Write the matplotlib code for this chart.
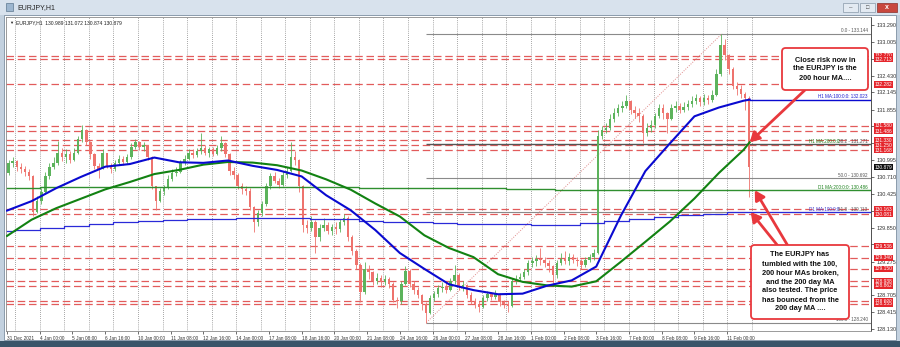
import numpy as np
import matplotlib
matplotlib.use("Agg")
import matplotlib.pyplot as plt
from matplotlib.patches import Rectangle, FancyBboxPatch
from matplotlib.transforms import blended_transform_factory

plt.rcParams["font.family"] = ["Liberation Sans", "DejaVu Sans"]

# ---------------------------------------------------------------------------
# data (aggregated to 4-hour candles)
# ---------------------------------------------------------------------------
BARS_PER_CANDLE = 4
first_open = 130.78
closes = [
    130.95, 130.98, 130.88, 130.84, 130.80, 130.72, 130.12, 130.30, 130.45, 130.72,
    130.88, 130.95, 131.12, 131.05, 131.10, 131.00, 131.12, 131.35, 131.50, 131.30,
    131.10, 130.90, 130.85, 131.12, 130.90, 130.84, 130.95, 131.02, 130.96, 131.05,
    131.22, 131.30, 131.22, 131.25, 131.05, 130.55, 130.30, 130.48, 130.52, 130.68,
    130.78, 130.80, 130.95, 131.02, 131.12, 131.08, 131.15, 131.20, 131.12, 131.18,
    131.10, 131.20, 131.28, 131.10, 130.82, 130.75, 130.55, 130.50, 130.48, 130.20,
    129.95, 130.10, 130.25, 130.55, 130.72, 130.65, 130.58, 130.75, 130.82, 131.05,
    131.00, 130.55, 129.90, 129.85, 129.95, 129.70, 129.85, 129.90, 129.80, 129.86,
    129.82, 129.95, 130.02, 129.70, 129.45, 129.22, 128.75, 129.15, 129.10, 128.95,
    129.00, 128.92, 128.98, 128.90, 128.62, 128.60, 128.90, 129.12, 128.90, 128.80,
    128.70, 128.55, 128.40, 128.65, 128.72, 128.82, 128.85, 128.80, 128.95, 129.05,
    128.85, 128.88, 128.70, 128.60, 128.55, 128.50, 128.65, 128.72, 128.68, 128.72,
    128.58, 128.55, 128.52, 128.95, 128.98, 129.02, 129.10, 129.25, 129.28, 129.32,
    129.30, 129.25, 129.20, 129.05, 129.25, 129.32, 129.28, 129.35, 129.30, 129.28,
    129.22, 129.30, 129.35, 129.42, 131.40, 131.50, 131.55, 131.70, 131.80, 131.88,
    131.92, 132.00, 131.85, 131.80, 131.75, 131.45, 131.55, 131.60, 131.75, 131.88,
    131.80, 131.70, 131.88, 131.92, 131.85, 131.90, 131.95, 132.00, 132.05, 131.98,
    132.05, 132.02, 132.10, 132.45, 132.95, 132.78, 132.55, 132.25, 132.20, 132.12,
    132.05, 130.879,
]
highs = [
    131.00, 131.05, 131.00, 130.95, 130.90, 130.85, 130.74, 130.38, 130.52, 130.80,
    130.95, 131.05, 131.32, 131.20, 131.18, 131.15, 131.20, 131.40, 131.60, 131.52,
    131.32, 131.12, 130.95, 131.18, 131.12, 130.95, 131.00, 131.08, 131.06, 131.10,
    131.28, 131.36, 131.32, 131.30, 131.26, 131.06, 130.56, 130.52, 130.58, 130.75,
    130.85, 130.88, 131.00, 131.08, 131.18, 131.18, 131.20, 131.46, 131.25, 131.22,
    131.22, 131.25, 131.40, 131.30, 131.12, 130.88, 130.78, 130.60, 130.56, 130.52,
    130.22, 130.15, 130.30, 130.60, 130.78, 130.80, 130.70, 130.82, 130.88, 131.30,
    131.15, 131.02, 130.58, 129.98, 130.05, 129.98, 129.92, 130.02, 129.95, 129.92,
    129.95, 130.00, 130.08, 130.04, 129.72, 129.48, 129.25, 129.27, 129.22, 129.12,
    129.08, 129.05, 129.05, 129.02, 128.92, 128.68, 128.95, 129.20, 129.15, 128.95,
    128.85, 128.72, 128.58, 128.70, 128.78, 128.88, 128.92, 128.92, 129.00, 129.22,
    129.08, 128.95, 128.90, 128.75, 128.65, 128.60, 128.70, 128.78, 128.76, 128.80,
    128.74, 128.62, 128.60, 129.00, 129.05, 129.08, 129.15, 129.30, 129.35, 129.38,
    129.50, 129.35, 129.30, 129.22, 129.30, 129.42, 129.45, 129.42, 129.40, 129.35,
    129.32, 129.36, 129.40, 129.48, 131.50, 131.58, 131.62, 131.78, 131.88, 131.95,
    132.00, 132.10, 132.02, 131.92, 131.88, 131.78, 131.62, 131.68, 131.80, 131.95,
    131.95, 131.82, 131.95, 132.00, 131.96, 131.98, 132.02, 132.08, 132.12, 132.08,
    132.12, 132.10, 132.18, 132.55, 133.144, 133.05, 132.80, 132.58, 132.32, 132.28,
    132.15, 132.08,
]
lows = [
    130.74, 130.88, 130.82, 130.78, 130.72, 130.66, 130.05, 130.10, 130.25, 130.42,
    130.68, 130.85, 130.92, 130.98, 130.95, 130.94, 130.98, 131.10, 131.30, 131.25,
    131.02, 130.85, 130.70, 130.85, 130.86, 130.78, 130.82, 130.92, 130.92, 130.93,
    131.02, 131.18, 131.16, 131.15, 131.00, 130.50, 130.15, 130.28, 130.40, 130.50,
    130.65, 130.72, 130.78, 130.92, 131.00, 131.03, 131.05, 131.10, 131.08, 131.05,
    131.06, 131.08, 131.15, 131.05, 130.75, 130.68, 130.50, 130.42, 130.40, 130.15,
    129.78, 129.88, 130.05, 130.22, 130.50, 130.60, 130.52, 130.55, 130.70, 130.80,
    130.92, 130.45, 129.78, 129.76, 129.80, 129.42, 129.62, 129.80, 129.74, 129.72,
    129.75, 129.78, 129.90, 129.62, 129.38, 129.15, 128.59, 128.72, 128.98, 128.88,
    128.90, 128.85, 128.88, 128.82, 128.58, 128.49, 128.55, 128.88, 128.85, 128.72,
    128.65, 128.45, 128.24, 128.38, 128.60, 128.68, 128.75, 128.74, 128.78, 128.90,
    128.80, 128.78, 128.65, 128.55, 128.48, 128.42, 128.48, 128.60, 128.62, 128.64,
    128.52, 128.48, 128.42, 128.50, 128.90, 128.94, 128.98, 129.05, 129.18, 129.20,
    129.22, 129.18, 129.10, 128.90, 129.00, 129.22, 129.24, 129.22, 129.25, 129.20,
    129.15, 129.18, 129.26, 129.30, 129.40, 131.35, 131.45, 131.50, 131.65, 131.75,
    131.82, 131.88, 131.78, 131.72, 131.65, 131.29, 131.40, 131.48, 131.55, 131.72,
    131.70, 131.45, 131.68, 131.82, 131.80, 131.82, 131.85, 131.90, 131.95, 131.92,
    131.94, 131.95, 131.98, 132.08, 132.42, 132.70, 132.45, 132.20, 132.10, 132.05,
    131.85, 130.37,
]

# hourly moving averages, sampled every 24 H1 bars (+ last bar)
ma_idx = list(range(0, 721, 24)) + [726]
h1_ma100 = [130.14, 130.30, 130.52, 130.71, 130.885, 130.93, 131.04, 130.96, 130.95, 130.99,
            130.90, 130.83, 130.72, 130.40, 130.145, 129.81, 129.42, 129.15, 128.89, 128.79,
            128.72, 128.73, 128.865, 128.955, 129.19, 130.05, 130.81, 131.28, 131.74, 131.89,
            132.005, 132.023]
h1_ma200 = [129.71, 129.985, 130.18, 130.34, 130.50, 130.625, 130.76, 130.83, 130.92, 130.965,
            130.955, 130.91, 130.82, 130.67, 130.495, 130.26, 130.04, 129.72, 129.505, 129.35,
            129.06, 128.93, 128.87, 128.85, 128.94, 129.27, 129.61, 129.955, 130.345, 130.78,
            131.17, 131.30]

# daily moving averages (one value per trading day)
day_idx = [0] + list(range(8, 705, 24))
d1_ma100 = [129.79, 129.81, 129.85, 129.88, 129.91, 129.94, 129.96, 129.98, 129.99, 130.00,
            130.01, 130.015, 130.02, 130.00, 129.99, 129.97, 129.95, 129.94, 129.93, 129.92,
            129.91, 129.905, 129.90, 129.895, 129.93, 129.96, 130.00, 130.03, 130.06, 130.09,
            130.115]
d1_ma200 = [130.53, 130.53, 130.535, 130.54, 130.54, 130.545, 130.545, 130.545, 130.545, 130.545,
            130.54, 130.54, 130.54, 130.535, 130.535, 130.53, 130.53, 130.525, 130.52, 130.52,
            130.515, 130.50, 130.50, 130.495, 130.495, 130.49, 130.49, 130.49, 130.488, 130.487,
            130.486]

# support / resistance levels (red dashed)
levels = [132.770, 132.713, 132.282, 131.580, 131.486, 131.330, 131.250, 131.168,
          130.163, 130.081, 129.536, 129.340, 129.150, 128.938, 128.862, 128.600, 128.555]

# fibonacci retracement of the 26 Jan low -> 10 Feb high
fib_low_idx, fib_high_idx = 410, 699
fib_low, fib_high = 128.240, 133.144
fib_pcts = [0.0, 38.2, 50.0, 61.8, 100.0]

last_price = 130.879
header = "EURJPY,H1  130.989 131.072 130.874 130.879"

date_labels = ["31 Dec 2021", "4 Jan 00:00", "5 Jan 08:00", "6 Jan 16:00", "10 Jan 00:00",
               "11 Jan 08:00", "12 Jan 16:00", "14 Jan 00:00", "17 Jan 08:00", "18 Jan 16:00",
               "20 Jan 00:00", "21 Jan 08:00", "24 Jan 16:00", "26 Jan 00:00", "27 Jan 08:00",
               "28 Jan 16:00", "1 Feb 00:00", "2 Feb 08:00", "3 Feb 16:00", "7 Feb 00:00",
               "8 Feb 08:00", "9 Feb 16:00", "11 Feb 00:00"]
ytick_vals = [133.290, 133.005, 132.715, 132.430, 132.145, 131.855, 131.570, 131.285,
              130.995, 130.710, 130.425, 130.140, 129.850, 129.565, 129.275, 128.990,
              128.705, 128.415, 128.130]
# price scale labels that sit under a level tag on the screenshot
ytick_hidden = [132.715, 131.570, 131.285, 130.140, 129.565, 128.990]

note_top = "Close risk now in\nthe EURJPY is the\n200 hour MA...."
note_bottom = ("The EURJPY has\ntumbled with the 100,\n200 hour MAs broken,\n"
               "and the 200 day MA\nalso tested. The price\nhas bounced from the\n200 day MA ....")

# ---------------------------------------------------------------------------
# figure / window chrome
# ---------------------------------------------------------------------------
FW, FH = 900, 347
fig = plt.figure(figsize=(FW / 100, FH / 100), dpi=100)
fig.patch.set_facecolor("#c3d1df")


def fr(x0, y0, x1, y1):
    """pixel box (top-left origin) -> figure fraction (x, y, w, h)"""
    return x0 / FW, 1 - y1 / FH, (x1 - x0) / FW, (y1 - y0) / FH


def chrome(x0, y0, x1, y1, fc, ec="none", lw=0.0, z=-5):
    x, y, w, h = fr(x0, y0, x1, y1)
    fig.add_artist(Rectangle((x, y), w, h, transform=fig.transFigure,
                             fc=fc, ec=ec, lw=lw, zorder=z))


chrome(0, 0, 900, 15, "#d8e2ed")
chrome(6, 3, 13, 11, "#9db6cf", ec="#5d7890", lw=0.5)
fig.text(17 / FW, 1 - 7.5 / FH, "EURJPY,H1", fontsize=5, color="#222222",
         va="center", ha="left")
chrome(843, 3, 858, 12, "#e3eaf2", ec="#8797a8", lw=0.5)
chrome(860, 3, 875, 12, "#e3eaf2", ec="#8797a8", lw=0.5)
chrome(877, 3, 897, 12, "#c8473e", ec="#8a2f2a", lw=0.5)
fig.text(850.5 / FW, 1 - 8 / FH, "–", fontsize=4.5, ha="center", va="center", color="#444")
fig.text(867.5 / FW, 1 - 7.5 / FH, "□", fontsize=4, ha="center", va="center", color="#444")
fig.text(887 / FW, 1 - 7.5 / FH, "x", fontsize=5, ha="center", va="center",
         color="white", fontweight="bold")
chrome(4, 15, 896, 340, "white", ec="#7d8fa1", lw=0.6)
chrome(0, 341, 900, 347, "#3a5569")

ax = fig.add_axes(fr(6, 17, 871, 331))
ax.set_facecolor("white")
xmin, xmax = -1.0, 844.6
ax.set_xlim(xmin, xmax)
ax.set_ylim(128.096, 133.426)

# vertical dotted grid
for g in range(8, 729, 24):
    ax.axvline(g, color="#555555", lw=0.5, ls=(0, (1, 2)), zorder=0.5)

# red dashed levels
for lv in levels:
    ax.axhline(lv, color="#e25b5b", lw=0.9, ls=(0, (6, 3)), zorder=1)

# fibonacci
fib_vals = [fib_high - p / 100 * (fib_high - fib_low) for p in fib_pcts]
for p, v in zip(fib_pcts, fib_vals):
    ax.hlines(v, fib_low_idx, xmax, color="#555555" if p == 38.2 else "#8a8a8a",
              lw=1.0 if p == 38.2 else 0.8, zorder=1.5)
ax.plot([fib_low_idx, fib_high_idx], [fib_low, fib_high], color="#e08a8a",
        lw=0.7, ls=(0, (1, 1.5)), zorder=1.5)

# candles
c = np.array(closes)
o = np.array([first_open] + closes[:-1])
hi = np.maximum(np.array(highs), np.maximum(o, c))
lo = np.minimum(np.array(lows), np.minimum(o, c))
xc = np.arange(len(c)) * BARS_PER_CANDLE + 1.5
col = np.where(c >= o, "#5cb35c", "#ee736d")
ax.vlines(xc, lo, hi, colors=col, lw=0.6, zorder=2)
ax.bar(xc, np.maximum(np.abs(c - o), 0.008), bottom=np.minimum(o, c), width=2.4,
       color=col, lw=0, zorder=2.1)

# daily MAs (step lines, extended to the right edge)
ax.step(day_idx + [xmax], d1_ma200 + [d1_ma200[-1]], where="post",
        color="#2f8f2f", lw=1.0, zorder=3)
ax.step(day_idx + [xmax], d1_ma100 + [d1_ma100[-1]], where="post",
        color="#2a2ad8", lw=0.9, zorder=3)

# hourly MAs
ax.plot(ma_idx, h1_ma200, color="#128212", lw=1.5, zorder=3.2)
ax.plot(ma_idx, h1_ma100, color="#0a0ad0", lw=1.5, zorder=3.3)
ax.plot([ma_idx[-1], xmax], [h1_ma100[-1]] * 2, color="#0a0ad0", lw=1.0, zorder=3.3)

# small line labels on the right
lbl_kw = dict(transform=blended_transform_factory(ax.transAxes, ax.transData),
              fontsize=3.3, ha="right", va="bottom", zorder=4)
fib_names = ["0.0", "38.2", "50.0", "61.8", "100.0"]
for name, v in zip(fib_names, fib_vals):
    ax.text(0.996, v + 0.008, f"{name} - {v:.3f}", color="#555555", **lbl_kw)
ax.text(0.996, h1_ma100[-1] + 0.008, f"H1 MA:100:0:0: {h1_ma100[-1]:.3f}", color="#1a1ad0", **lbl_kw)
ax.text(0.963, fib_vals[1] + 0.008, "H1 MA:200:0:0", color="#1a801a", **lbl_kw)
ax.text(0.996, d1_ma200[-1] + 0.008, f"D1 MA:200:0:0: {d1_ma200[-1]:.3f}", color="#1a801a", **lbl_kw)
ax.text(0.963, d1_ma100[-1] + 0.008, "D1 MA:100:0:0", color="#3a3ad0", **lbl_kw)

ax.text(0.004, 0.986, "▼", transform=ax.transAxes, fontsize=3.0, va="top", color="#222")
ax.text(0.012, 0.988, header, transform=ax.transAxes, fontsize=3.6, va="top", color="#222")

# axes styling
ax.yaxis.tick_right()
ax.set_yticks(ytick_vals)
ax.set_yticklabels(["" if v in ytick_hidden else f"{v:.3f}" for v in ytick_vals])
ax.tick_params(axis="y", labelsize=4.0, length=2, width=0.5, pad=2, colors="#333333")
ax.set_xticks([32 * i for i in range(len(date_labels))])
ax.set_xticklabels(date_labels, ha="left")
ax.tick_params(axis="x", labelsize=3.4, length=2, width=0.5, pad=1.5, colors="#333333")
for s in ("left", "top", "bottom"):
    ax.spines[s].set_color("#8a8a8a")
    ax.spines[s].set_linewidth(0.6)
ax.spines["right"].set_color("#333333")
ax.spines["right"].set_linewidth(0.6)

# price tags on the axis
tag_tr = blended_transform_factory(ax.transAxes, ax.transData)
for lv in levels:
    ax.text(1.004, lv, f"{lv:.3f}", transform=tag_tr, fontsize=3.5, color="white",
            va="center", ha="left", clip_on=False, zorder=6,
            bbox=dict(fc="#e5262c", ec="none", pad=0.45))
ax.text(1.004, last_price, f"{last_price:.3f}", transform=tag_tr, fontsize=3.5,
        color="white", va="center", ha="left", clip_on=False, zorder=6,
        bbox=dict(fc="#111111", ec="none", pad=0.45))

# annotation boxes + arrows
RED = "#e8383d"


def note(x0, y0, x1, y1, txt):
    x, y, w, h = fr(x0, y0, x1, y1)
    fig.add_artist(FancyBboxPatch((x, y), w, h, boxstyle="round,pad=0,rounding_size=0.004",
                                  mutation_aspect=FW / FH, transform=fig.transFigure,
                                  fc="white", ec=RED, lw=1.3, zorder=8))
    fig.text(x + w / 2, y + h / 2, txt, ha="center", va="center", fontsize=5.3,
             fontweight="bold", linespacing=1.4, color="#111111", zorder=9)


arrow_kw = dict(arrowstyle="-|>,head_length=0.7,head_width=0.4", color=RED, lw=2.0,
                shrinkA=0, shrinkB=0, mutation_scale=8)
ax.annotate("", xy=(ma_idx[-1], h1_ma200[-1]), xytext=(805 / FW, 1 - 90 / FH),
            textcoords="figure fraction", arrowprops=arrow_kw, zorder=7)
ax.annotate("", xy=(731, d1_ma200[-1]), xytext=(788 / FW, 1 - 246 / FH),
            textcoords="figure fraction", arrowprops=arrow_kw, zorder=7)
ax.annotate("", xy=(727, d1_ma100[-1]), xytext=(778 / FW, 1 - 246 / FH),
            textcoords="figure fraction", arrowprops=arrow_kw, zorder=7)

note(782, 48, 868, 90, note_top)
note(751, 245, 849, 319, note_bottom)

fig.savefig("out.png", dpi=100, facecolor=fig.get_facecolor())
